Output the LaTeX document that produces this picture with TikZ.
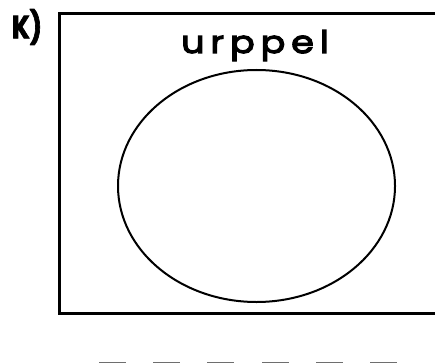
\documentclass[tikz,border=0pt]{standalone}
\usepackage{fontspec}
\setmainfont{Poppins}
\newfontfamily\titlefont{Poppins}[LetterSpace=19,FakeStretch=1.18,FakeBold=4]
\newfontfamily\taskfont{Poppins}[FakeStretch=0.8,FakeBold=2]
\definecolor{ink}{HTML}{000000}
\definecolor{blank}{HTML}{6E6E6E}

\begin{document}
\begin{tikzpicture}[
  x=1pt, y=-1pt,
  line cap=butt,
  line join=miter
]
  \useasboundingbox (0,0) rectangle (435,363);
  \clip (0,0) rectangle (435,363);

  \coordinate (P) at (59.5,313);
  \coordinate (Q) at (445,14);
  \coordinate (O) at (256.5,186);

  \draw[ink,line width=3pt] (P) rectangle (Q);
  \draw[ink,line width=2pt] (O) ellipse [x radius=138.5, y radius=116];

  \node[anchor=base,inner sep=0pt,font=\titlefont\fontsize{31}{31}\selectfont] (lbl) at (255,53) {urppel};
  \node[anchor=center,inner sep=0pt,font=\taskfont\fontsize{32}{32}\selectfont\bfseries] (task) at (27,27) {K)};

  \foreach \a in {99,153,207,262,316,370}
    \draw[blank,line width=1.5pt] (\a,362.5) -- +(27,0);
\end{tikzpicture}
\end{document}
